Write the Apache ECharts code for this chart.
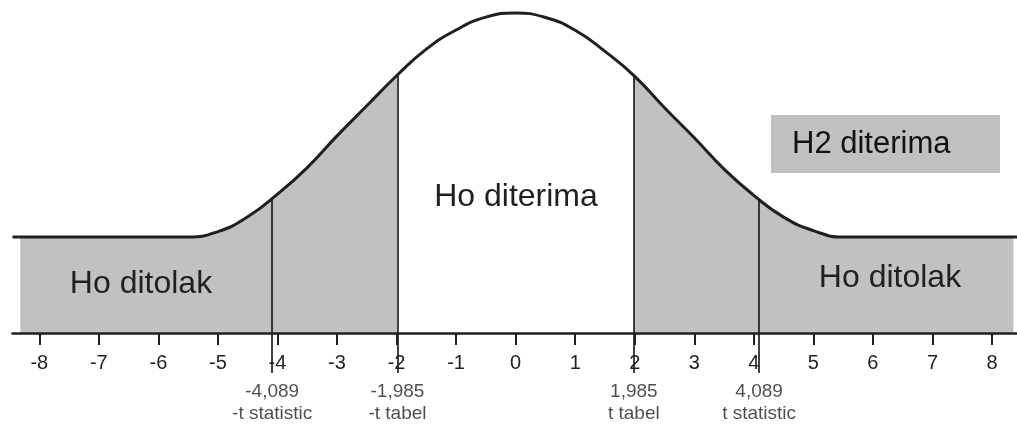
<!DOCTYPE html>
<html>
<head>
<meta charset="utf-8">
<script src="https://cdn.jsdelivr.net/npm/echarts@6/dist/echarts.min.js"></script>
<style>
  html, body { margin: 0; padding: 0; background: #ffffff; }
  #chart { width: 1017px; height: 425px; }
</style>
</head>
<body>
<div id="chart"></div>
<script>
// Curve of the t distribution sketch (height scaled so the peak is 100)
const curveX = [-8.45, -6, -5.5, -5, -4.5, -4, -3.5, -3, -2.5, -2, -1.5, -1, -0.5, 0,
                0.5, 1, 1.5, 2, 2.5, 3, 3.5, 4, 4.5, 5, 5.5, 6, 8.42];
const curveY = [30, 30, 30, 31.7, 36.3, 43.4, 51.7, 61.6, 71, 80.4, 88.7, 94.7, 98.7, 100,
                98.6, 94.6, 88, 80.2, 70.4, 61, 51.2, 43, 36.2, 32, 30, 30, 30];

// Shaded region extent along x and the level of the flat tails
const fillStart = -8.32;
const fillEnd = 8.36;
const flatLevel = 30;

// Acceptance region (left blank)
const acceptFrom = -1.985;
const acceptTo = 1.985;

// Critical values marked with vertical lines
const markerValues = [-4.089, -1.985, 1.985, 4.089];
const markerTops = [42, 80.7, 80, 42];
const markerText = ['-4,089', '-1,985', '1,985', '4,089'];
const markerNames = ['-t statistic', '-t tabel', 't tabel', 't statistic'];
const markerBottom = -12.5;

// Axis ticks
const tickValues = [-8, -7, -6, -5, -4, -3, -2, -1, 0, 1, 2, 3, 4, 5, 6, 7, 8];

const ink = '#231f20';
const shade = '#c1c1c1';
const font = '"Liberation Sans", Arial, sans-serif';

const curveData = curveX.map((x, i) => [x, curveY[i]]);
const fillData = [[fillStart, flatLevel]]
  .concat(curveData.filter(p => p[0] > fillStart && p[0] < fillEnd))
  .concat([[fillEnd, flatLevel]]);

const chart = echarts.init(document.getElementById('chart'), null, { renderer: 'canvas' });

chart.setOption({
  animation: false,
  backgroundColor: '#ffffff',
  grid: { left: 12.5, right: -1.75, top: 13, bottom: 52, containLabel: false },
  xAxis: {
    type: 'value',
    min: -8.45,
    max: 8.42,
    z: 5,
    // baseline sits at y = 0, above the bottom of the plotting area
    offset: -40,
    splitLine: { show: false },
    axisLine: { show: true, onZero: false, lineStyle: { color: ink, width: 2.5 } },
    axisTick: {
      show: true,
      inside: false,
      length: 12,
      customValues: tickValues,
      lineStyle: { color: ink, width: 2 }
    },
    axisLabel: {
      customValues: tickValues,
      formatter: v => String(v),
      color: ink,
      fontFamily: font,
      fontSize: 20,
      margin: 20
    }
  },
  yAxis: {
    type: 'value',
    show: false,
    min: markerBottom,
    max: 100
  },
  visualMap: {
    type: 'piecewise',
    show: false,
    seriesIndex: 0,
    dimension: 0,
    pieces: [
      { lt: acceptFrom, color: shade },
      { gte: acceptFrom, lte: acceptTo, color: '#ffffff' },
      { gt: acceptTo, color: shade }
    ]
  },
  graphic: [
    {
      type: 'rect',
      shape: { x: 771, y: 115, width: 229, height: 58 },
      style: { fill: shade },
      z: 10
    },
    {
      type: 'text',
      x: 792, y: 144,
      style: { text: 'H2 diterima', fill: '#111111', font: '31px ' + font, textVerticalAlign: 'middle', textAlign: 'left' },
      z: 11
    },
    {
      type: 'text',
      x: 141, y: 284,
      style: { text: 'Ho ditolak', fill: ink, font: '32px ' + font, textAlign: 'center', textVerticalAlign: 'middle' },
      z: 11
    },
    {
      type: 'text',
      x: 516, y: 197,
      style: { text: 'Ho diterima', fill: ink, font: '32px ' + font, textAlign: 'center', textVerticalAlign: 'middle' },
      z: 11
    },
    {
      type: 'text',
      x: 890, y: 278,
      style: { text: 'Ho ditolak', fill: ink, font: '32px ' + font, textAlign: 'center', textVerticalAlign: 'middle' },
      z: 11
    }
  ],
  series: [
    {
      // grey area under the curve, blank over the acceptance region
      type: 'line',
      z: 1,
      data: fillData,
      smooth: 0.5,
      showSymbol: false,
      lineStyle: { width: 0 },
      areaStyle: { opacity: 1, origin: 0 },
      silent: true
    },
    {
      // density curve with critical value lines
      type: 'line',
      z: 3,
      clip: false,
      data: curveData,
      smooth: 0.5,
      showSymbol: false,
      lineStyle: { color: ink, width: 3 },
      silent: true,
      markLine: {
        silent: true,
        symbol: ['none', 'none'],
        label: { show: false },
        lineStyle: { color: ink, width: 1.7, type: 'solid' },
        data: markerValues.map((x, i) => [
          { coord: [x, markerBottom] },
          { coord: [x, markerTops[i]] }
        ])
      }
    },
    {
      // critical value captions
      type: 'scatter',
      z: 4,
      clip: false,
      symbolSize: 0,
      silent: true,
      data: markerValues.map((x, i) => ({
        value: [x, markerBottom],
        label: {
          show: true,
          position: 'bottom',
          distance: 8,
          align: 'center',
          color: ink,
          fontFamily: font,
          fontSize: 19,
          lineHeight: 22,
          formatter: markerText[i] + '\n' + markerNames[i]
        }
      }))
    }
  ]
});
</script>
</body>
</html>
